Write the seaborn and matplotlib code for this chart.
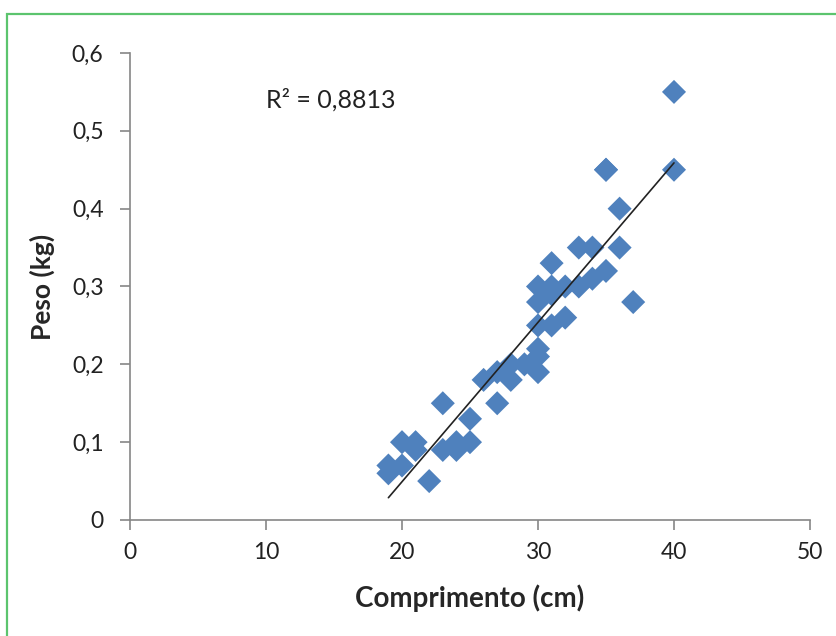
import matplotlib.pyplot as plt
import seaborn as sns
import pandas as pd
from matplotlib.ticker import FuncFormatter, MultipleLocator
from matplotlib.patches import Rectangle

# dados
comprimento = [19, 19, 20, 20, 21, 21, 22, 23, 23, 24, 24, 25, 25, 26, 27, 27,
               28, 28, 29, 30, 30, 30, 30, 30, 30, 31, 31, 31, 31, 32, 32, 33,
               33, 34, 34, 35, 35, 35, 36, 36, 37, 40, 40]
peso = [0.06, 0.07, 0.07, 0.10, 0.10, 0.09, 0.05, 0.15, 0.09, 0.09, 0.10, 0.10,
        0.13, 0.18, 0.15, 0.19, 0.18, 0.20, 0.20, 0.19, 0.21, 0.22, 0.25, 0.28,
        0.30, 0.25, 0.29, 0.30, 0.33, 0.26, 0.30, 0.30, 0.35, 0.31, 0.35, 0.32,
        0.45, 0.45, 0.35, 0.40, 0.28, 0.45, 0.55]
r2_text = "R² = 0,8813"

df = pd.DataFrame({'Comprimento': comprimento, 'Peso': peso})

sns.set_style('white')
plt.rcParams['font.family'] = ['Lato', 'DejaVu Sans']

fig = plt.figure(figsize=(8.37, 6.36), dpi=100)
ax = fig.add_axes([130 / 837, 1 - 520 / 636, 680 / 837, 467 / 636])

# borda verde em volta
fig.patches.append(Rectangle((7 / 837, -0.05), 1.2, 1 - 14 / 636 + 0.05,
                             transform=fig.transFigure, fill=False,
                             edgecolor='#5cc46e', linewidth=1.6))

sns.regplot(data=df, x='Comprimento', y='Peso', scatter=False, ci=None,
            line_kws={'linewidth': 1.2, 'color': '#222222'}, ax=ax)
sns.scatterplot(data=df, x='Comprimento', y='Peso', marker='D', s=150,
                color='#4f81bd', edgecolor='none', ax=ax, zorder=1)

ax.set_xlim(0, 50)
ax.set_ylim(0, 0.6)
ax.xaxis.set_major_locator(MultipleLocator(10))
ax.yaxis.set_major_locator(MultipleLocator(0.1))

def virgula(v, pos):
    if abs(v) < 1e-9:
        return '0'
    if float(v).is_integer():
        return f'{int(v)}'
    return f'{v:.1f}'.replace('.', ',')

ax.xaxis.set_major_formatter(FuncFormatter(virgula))
ax.yaxis.set_major_formatter(FuncFormatter(virgula))

for s in ['top', 'right']:
    ax.spines[s].set_visible(False)
for s in ['left', 'bottom']:
    ax.spines[s].set_color('#868686')
    ax.spines[s].set_linewidth(1.2)

ax.tick_params(axis='both', direction='out', length=7, width=1.2, color='#868686',
               labelsize=16.5, labelcolor='#222222', bottom=True, left=True)
ax.tick_params(axis='y', pad=12)
ax.tick_params(axis='x', pad=9)

ax.set_xlabel('Comprimento (cm)', fontsize=20, fontweight='bold', labelpad=15)
ax.set_ylabel('Peso (kg)', fontsize=19, fontweight='bold', labelpad=12)

ax.text(10, 0.54, r2_text, fontsize=18, color='#222222', va='center', ha='left')

plt.savefig('out.png', dpi=100)
